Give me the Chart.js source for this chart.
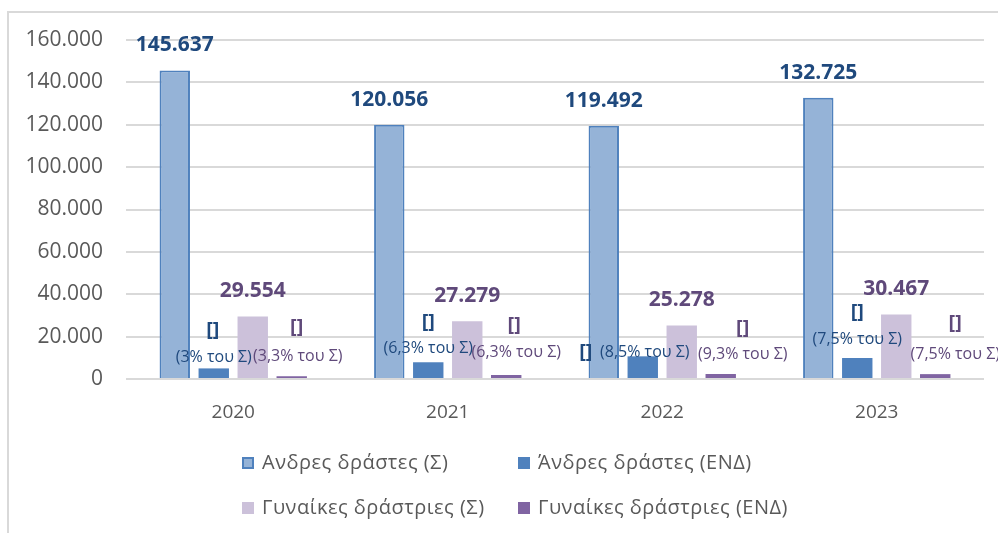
<!DOCTYPE html>
<html>
<head>
<meta charset="utf-8">
<script src="https://cdn.jsdelivr.net/npm/chart.js@4"></script>
<style>
  body { margin: 0; background: #fff; overflow: hidden; }
  #wrap { position: relative; width: 998px; height: 533px; }
  #frame { position: absolute; left: 7px; top: 11px; width: 1100px; height: 600px; border: 2px solid #d9d9d9; }
  #graph { position: absolute; left: 0; top: 0; }
</style>
</head>
<body>
<div id="wrap">
  <div id="frame"></div>
  <canvas id="graph" width="998" height="533"></canvas>
</div>
<script>
// Δεδομένα
const years = ['2020', '2021', '2022', '2023'];
const menTotal = [145637, 120056, 119492, 132725];
const menEnd = [5000, 7900, 10700, 9900];
const womenTotal = [29554, 27279, 25278, 30467];
const womenEnd = [1300, 1900, 2350, 2300];
const menEndPct = ['3%', '6,3%', '8,5%', '7,5%'];
const womenEndPct = ['3,3%', '6,3%', '9,3%', '7,5%'];
const seriesNames = ['Ανδρες δράστες (Σ)', 'Άνδρες δράστες (ΕΝΔ)', 'Γυναίκες δράστριες (Σ)', 'Γυναίκες δράστριες (ΕΝΔ)'];

const FONT = '"Open Sans", "Noto Sans", sans-serif';
const BLUE_TXT = '#1F497D';
const PURPLE_TXT = '#5F497A';

function fmt(v) {
    return String(v).replace(/\B(?=(\d{3})+(?!\d))/g, '.');
}

// θέσεις των ετικετών [] / (x% του Σ) σε σχέση με την κορυφή της μπάρας (όπως στο Excel)
// [dx αγκύλης, dy αγκύλης, dx κειμένου, dy κειμένου]
const menEndOffsets = [[-1, -38, 0, -11], [0, -40, 0, -14], [-57, -4, 2, -4], [0, -46, 0, -19]];
const womenEndOffsets = [[5, -49, 6, -20], [8, -50, 10, -23], [22, -46, 22, -20], [20, -51, 20, -20]];

const labelPlugin = {
    id: 'barLabels',
    afterDatasetsDraw(chart) {
        const ctx = chart.ctx;
        ctx.save();
        ctx.textAlign = 'center';
        ctx.textBaseline = 'middle';

        // τιμές πάνω από τις μπάρες (Σ)
        ctx.font = 'bold 21px ' + FONT;
        chart.getDatasetMeta(0).data.forEach((bar, i) => {
            ctx.fillStyle = BLUE_TXT;
            ctx.fillText(fmt(menTotal[i]), bar.x, bar.y - 25);
        });
        chart.getDatasetMeta(2).data.forEach((bar, i) => {
            ctx.fillStyle = PURPLE_TXT;
            ctx.fillText(fmt(womenTotal[i]), bar.x, bar.y - 25);
        });

        // ετικέτες ΕΝΔ
        const drawEnd = (meta, pcts, offs, color) => {
            meta.data.forEach((bar, i) => {
                const o = offs[i];
                ctx.fillStyle = color;
                ctx.font = 'bold 20px ' + FONT;
                ctx.fillText('[]', bar.x + o[0], bar.y + o[1]);
                ctx.font = '16px ' + FONT;
                ctx.fillText('(' + pcts[i] + ' του Σ)', bar.x + o[2], bar.y + o[3]);
            });
        };
        drawEnd(chart.getDatasetMeta(1), menEndPct, menEndOffsets, BLUE_TXT);
        drawEnd(chart.getDatasetMeta(3), womenEndPct, womenEndOffsets, PURPLE_TXT);
        ctx.restore();
    }
};

const legendPlugin = {
    id: 'gridLegend',
    afterDraw(chart) {
        const ctx = chart.ctx;
        const cols = [242, 518];
        const rows = [463, 508];
        ctx.save();
        ctx.font = '20px ' + FONT;
        ctx.letterSpacing = '0.5px';
        ctx.textBaseline = 'middle';
        ctx.textAlign = 'left';
        chart.data.datasets.forEach((ds, i) => {
            const x = cols[i % 2];
            const y = rows[Math.floor(i / 2)];
            ctx.fillStyle = ds.backgroundColor;
            ctx.fillRect(x, y - 6, 12, 12);
            if (ds.borderWidth) {
                ctx.strokeStyle = ds.borderColor;
                ctx.lineWidth = 2;
                ctx.strokeRect(x + 1, y - 5, 10, 10);
            }
            ctx.fillStyle = '#595959';
            ctx.fillText(ds.label, x + 20, y);
        });
        ctx.restore();
    }
};

const ctx = document.getElementById('graph').getContext('2d');
new Chart(ctx, {
    type: 'bar',
    data: {
        labels: years,
        datasets: [
            { label: seriesNames[0], data: menTotal, backgroundColor: '#95B3D7', borderColor: '#4F81BD', borderWidth: 2 },
            { label: seriesNames[1], data: menEnd, backgroundColor: '#4F81BD', borderWidth: 0 },
            { label: seriesNames[2], data: womenTotal, backgroundColor: '#CCC1DA', borderWidth: 0 },
            { label: seriesNames[3], data: womenEnd, backgroundColor: '#8064A2', borderWidth: 0 }
        ]
    },
    options: {
        responsive: false,
        animation: false,
        categoryPercentage: 0.727,
        barPercentage: 0.78,
        layout: { padding: { left: 0, top: 40, right: 14, bottom: 104 } },
        plugins: {
            legend: { display: false },
            tooltip: { enabled: false }
        },
        scales: {
            x: {
                grid: { display: false },
                border: { display: false },
                ticks: { color: '#595959', font: { family: FONT, size: 19 }, padding: 14 },
                afterFit: s => { s.height = 50; }
            },
            y: {
                min: 0,
                max: 160000,
                border: { display: false },
                grid: { color: '#D9D9D9', lineWidth: 2, drawTicks: false },
                ticks: {
                    stepSize: 20000,
                    color: '#595959',
                    padding: 23,
                    font: { family: FONT, size: 21 },
                    callback: v => fmt(v)
                },
                afterFit: s => { s.width = 126; }
            }
        }
    },
    plugins: [labelPlugin, legendPlugin]
});
</script>
</body>
</html>
